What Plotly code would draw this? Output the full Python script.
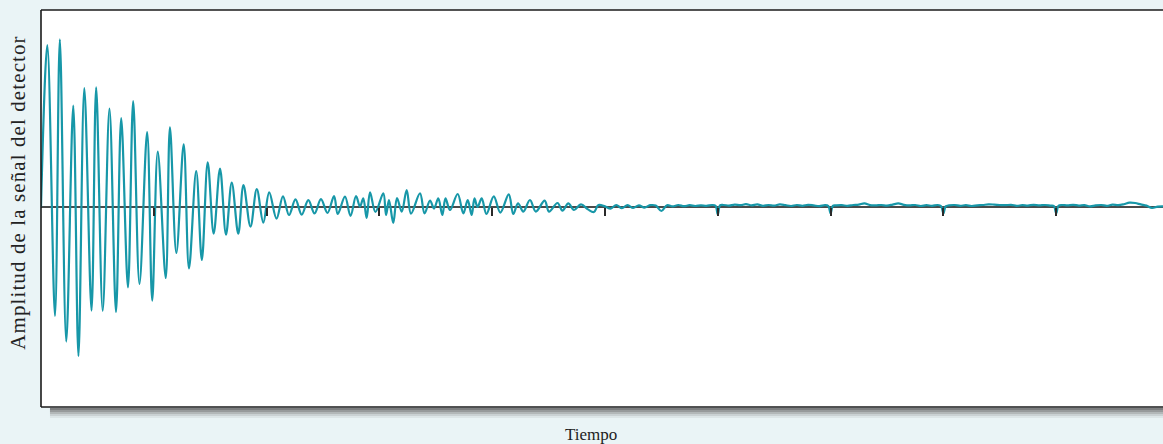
import plotly.graph_objects as go

# ---- data (time in tick units, amplitude in arbitrary units) ----
t_head = [0.0, 0.056, 0.124, 0.167, 0.224, 0.286, 0.332, 0.384, 0.448, 0.489, 0.547, 0.607, 0.665,
          0.711, 0.771, 0.817, 0.873, 0.941, 0.986, 1.035, 1.106, 1.143, 1.200, 1.265, 1.312, 1.376,
          1.426, 1.478, 1.531, 1.587, 1.640, 1.691, 1.749, 1.795, 1.857, 1.913, 1.971, 2.023, 2.088,
          2.145, 2.199, 2.256, 2.311, 2.370, 2.425, 2.482, 2.540, 2.598, 2.631, 2.695, 2.744, 2.793,
          2.828, 2.857, 2.887, 2.917, 2.965, 3.035, 3.059, 3.085, 3.123, 3.156, 3.198, 3.242, 3.280,
          3.360, 3.400, 3.449, 3.484, 3.522, 3.558, 3.586, 3.626, 3.694, 3.744, 3.783, 3.818, 3.843,
          3.870, 3.907, 3.949, 4.014, 4.072, 4.147, 4.187, 4.229, 4.276, 4.335, 4.387, 4.465, 4.504,
          4.579, 4.623, 4.675, 4.725, 4.787, 4.849, 4.902, 4.942]
a_head = [0, 81, -54.5, 83.8, -67.3, 50.7, -74.5, 59.4, -51.8, 59.8, -51.9, 49.2, -52.5,
          44.4, -40.2, 52.9, -38.5, 37.4, -46.8, 27.7, -35.5, 39.8, -23, 31.3, -30.7, 18,
          -26.5, 22.3, -13.3, 19.2, -13.8, 12.2, -13.3, 11, -9.8, 8.9, -7.8, 7.3, -5.8,
          5.3, -4, 3.8, -3.8, 3.4, -3.2, 3.9, -3, 5.5, -3.5, 5.2, -4.5, 5.5,
          0.2, 4.3, -5.5, 7.3, -2.5, 6.8, -4, 3.5, -8, 4.5, -2.3, 8.5, -3.3,
          6.8, -3.2, 3.2, -0.8, 4.3, -4, 4.3, -1.5, 6.5, -3.2, 3.5, -4, 4.3,
          0, 4.3, -3.5, 5.3, -2.8, 6.3, -3.5, 1.8, -2.3, 3.5, -2.3, 3.2, -2.3,
          2, -1.8, 1.8, -1.5, 1.3, -1.2, -2.5, 1]

t_tail = [5.00, 5.05, 5.10, 5.15, 5.20, 5.25, 5.30, 5.35, 5.40, 5.45, 5.50, 5.55, 5.60, 5.65,
          5.70, 5.75, 5.80, 5.85, 5.90, 5.95, 5.98, 6.00, 6.02, 6.05, 6.10, 6.15, 6.20, 6.25,
          6.30, 6.35, 6.40, 6.45, 6.50, 6.55, 6.60, 6.65, 6.70, 6.75, 6.80, 6.85, 6.90, 6.95,
          6.98, 7.00, 7.02, 7.05, 7.10, 7.15, 7.20, 7.25, 7.30, 7.35, 7.40, 7.45, 7.50, 7.55,
          7.60, 7.65, 7.70, 7.75, 7.80, 7.85, 7.90, 7.95, 7.98, 8.00, 8.02, 8.05, 8.10, 8.15,
          8.20, 8.25, 8.30, 8.35, 8.40, 8.45, 8.50, 8.55, 8.60, 8.65, 8.70, 8.75, 8.80, 8.85,
          8.90, 8.95, 8.98, 9.00, 9.02, 9.05, 9.10, 9.15, 9.20, 9.25, 9.30, 9.35, 9.40, 9.45,
          9.50, 9.55, 9.60, 9.65, 9.70, 9.75, 9.80, 9.85, 9.90, 9.95]
a_tail = [0.3, -0.8, 1.0, -0.6, 0.9, -0.5, 0.8, -0.3, 0.9, 0.7, -2.0, 0.9, 0.3, 1.0,
          0.4, 0.9, 0.5, 0.8, 0.6, 1.0, 0.6, -3.8, 0.8, 1.0, 0.7, 1.2, 0.9, 1.4,
          0.8, 1.3, 0.6, 1.0, 0.7, 1.3, 0.9, 0.5, 1.0, 0.6, 1.1, 0.8, 0.4, 0.9,
          0.5, -3.2, 0.6, 0.8, 0.9, 0.6, 1.0, 1.2, 1.8, 0.9, 0.8, 1.0, 0.7, 1.2,
          1.8, 1.1, 0.8, 1.0, 0.5, 0.9, 0.6, 1.0, 0.4, -3.2, 0.3, 0.8, 1.0, 0.6,
          0.9, 0.5, 0.8, 1.0, 1.3, 1.2, 1.0, 0.9, 1.1, 0.6, 0.9, 0.7, 1.1, 0.8,
          1.0, 0.7, 0.5, -3.2, 0.6, 1.0, 0.8, 1.1, 0.7, 0.9, 0.3, 0.8, 1.0, 0.6,
          1.2, 0.9, 1.4, 2.2, 2.0, 1.3, 0.7, -0.5, 0.2, 0.3]

tick_positions = [1, 2, 3, 4, 5, 6, 7, 8, 9]

x_title = "Tiempo"
y_title = "Amplitud de la señal del detector"

# ---- styles ----
BG = "#EAF4F6"
LINE = "#1797A8"
Y_MIN, Y_MAX = -100, 98.5
X_MAX = 9.947
SERIF = "Liberation Serif, Times New Roman, serif"

t_all = t_head + t_tail
a_all = a_head + a_tail

fig = go.Figure()
fig.add_trace(go.Scatter(
    x=t_all, y=a_all, mode="lines",
    line=dict(color=LINE, width=2.2, shape="spline", smoothing=1.0),
    hoverinfo="skip", showlegend=False,
))

zero_pos = (0 - Y_MIN) / (Y_MAX - Y_MIN)

shapes = []
# drop shadow under the plot frame (gradient approximation)
shadow_cols = ["#7d7f80", "#979a9b", "#b2b7b8", "#cad1d3", "#dde6e8"]
px = 1.0 / 397
for i, c in enumerate(shadow_cols):
    shapes.append(dict(type="rect", xref="paper", yref="paper",
                       x0=0.008, x1=1.05, y0=-(i * 2 + 3) * px, y1=-(i * 2 + 1) * px,
                       line=dict(width=0), fillcolor=c, layer="below"))
# frame: left, top, bottom
shapes += [
    dict(type="line", xref="paper", yref="paper", x0=0, x1=0, y0=0, y1=1,
         line=dict(color="#1a1a1a", width=1.6)),
    dict(type="line", xref="paper", yref="paper", x0=0, x1=1.05, y0=1, y1=1,
         line=dict(color="#1a1a1a", width=1.6)),
    dict(type="line", xref="paper", yref="paper", x0=0, x1=1.05, y0=0, y1=0,
         line=dict(color="#1a1a1a", width=1.6)),
]

fig.update_layout(
    width=1163, height=444,
    margin=dict(l=41, r=0, t=10, b=37),
    paper_bgcolor=BG, plot_bgcolor="white",
    shapes=shapes,
    xaxis=dict(range=[0, X_MAX], showgrid=False, zeroline=False, showline=False,
               anchor="free", position=zero_pos,
               tickmode="array", tickvals=tick_positions, ticks="outside",
               ticklen=8, tickwidth=1.5, tickcolor="#2a2a2a", showticklabels=False),
    yaxis=dict(range=[Y_MIN, Y_MAX], showgrid=False, showticklabels=False, ticks="",
               zeroline=True, zerolinecolor="#4a4a4a", zerolinewidth=1.8, showline=False),
    annotations=[
        dict(text=y_title, xref="paper", yref="paper", x=0, y=0.54, xshift=-23,
             textangle=-90, showarrow=False, xanchor="center", yanchor="middle",
             font=dict(family=SERIF, size=21, color="#222")),
        dict(text=x_title, xref="paper", yref="paper", x=0.49, y=-0.07,
             showarrow=False, xanchor="center", yanchor="middle",
             font=dict(family=SERIF, size=17, color="#222")),
    ],
)

post = (
    "document.body.style.margin='0';document.body.style.overflow='hidden';"
    "var a=document.querySelectorAll('.annotation-text');"
    "if(a.length){a[0].style.letterSpacing='1.1px';}"
)
fig.write_html("out.html", post_script=post, config={"displayModeBar": False})
